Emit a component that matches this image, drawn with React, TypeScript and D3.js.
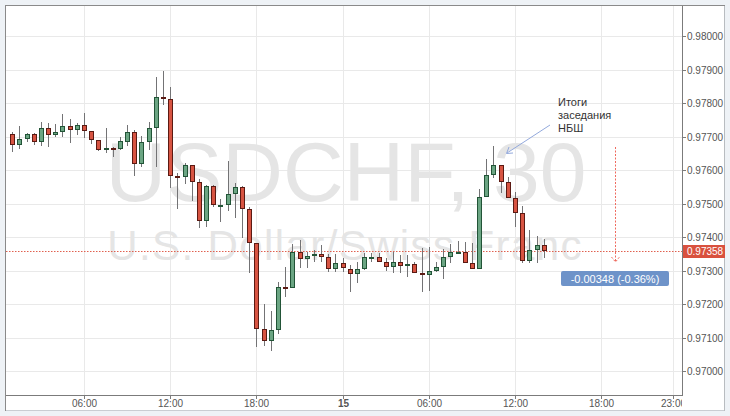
import React from 'react';
import * as d3 from 'd3';

// ---- data (USDCHF, 30-minute candles, starting 14th 01:00 UTC) ----
const firstCandle = Date.UTC(2016, 0, 14, 1, 0);
const opens = [
  0.97708, 0.97676, 0.97693, 0.97708, 0.97683, 0.97725, 0.97705, 0.97713, 0.97731, 0.97720,
  0.97735, 0.97716, 0.97689, 0.97660, 0.97666, 0.97663, 0.97685, 0.97713, 0.97618, 0.97684,
  0.97725, 0.97817, 0.97812, 0.97583, 0.97580, 0.97614, 0.97563, 0.97449, 0.97551, 0.97495,
  0.97496, 0.97528, 0.97548, 0.97483, 0.97383, 0.97126, 0.97090, 0.97122, 0.97250, 0.97249,
  0.97354, 0.97334, 0.97342, 0.97348, 0.97339, 0.97305, 0.97322, 0.97305, 0.97289, 0.97304,
  0.97339, 0.97339, 0.97326, 0.97311, 0.97326, 0.97313, 0.97319, 0.97294, 0.97286, 0.97299,
  0.97311, 0.97339, 0.97353, 0.97355, 0.97322, 0.97304, 0.97519, 0.97584, 0.97614, 0.97563,
  0.97516, 0.97471, 0.97328, 0.97361, 0.97375,
];
const highs = [
  0.97713, 0.97731, 0.97711, 0.97711, 0.97743, 0.97739, 0.97737, 0.97767, 0.97753, 0.97739,
  0.97771, 0.97717, 0.97690, 0.97725, 0.97668, 0.97699, 0.97733, 0.97719, 0.97702, 0.97743,
  0.97877, 0.97896, 0.97849, 0.97592, 0.97620, 0.97614, 0.97572, 0.97554, 0.97554, 0.97514,
  0.97626, 0.97562, 0.97552, 0.97489, 0.97383, 0.97200, 0.97179, 0.97265, 0.97310, 0.97379,
  0.97390, 0.97356, 0.97360, 0.97375, 0.97348, 0.97349, 0.97336, 0.97316, 0.97326, 0.97351,
  0.97351, 0.97351, 0.97336, 0.97355, 0.97346, 0.97346, 0.97325, 0.97367, 0.97369, 0.97326,
  0.97365, 0.97378, 0.97389, 0.97384, 0.97383, 0.97542, 0.97632, 0.97672, 0.97614, 0.97580,
  0.97535, 0.97493, 0.97421, 0.97403, 0.97394,
];
const lows = [
  0.97655, 0.97663, 0.97685, 0.97675, 0.97672, 0.97670, 0.97699, 0.97699, 0.97680, 0.97705,
  0.97695, 0.97677, 0.97658, 0.97650, 0.97640, 0.97660, 0.97672, 0.97583, 0.97608, 0.97660,
  0.97608, 0.97794, 0.97545, 0.97483, 0.97557, 0.97508, 0.97428, 0.97431, 0.97489, 0.97444,
  0.97479, 0.97458, 0.97396, 0.97292, 0.97073, 0.97075, 0.97060, 0.97110, 0.97221, 0.97247,
  0.97308, 0.97308, 0.97326, 0.97325, 0.97296, 0.97296, 0.97296, 0.97235, 0.97262, 0.97302,
  0.97326, 0.97325, 0.97299, 0.97292, 0.97292, 0.97280, 0.97292, 0.97237, 0.97239, 0.97296,
  0.97275, 0.97323, 0.97351, 0.97322, 0.97304, 0.97304, 0.97519, 0.97575, 0.97532, 0.97516,
  0.97431, 0.97322, 0.97322, 0.97323, 0.97338,
];
const closes = [
  0.97676, 0.97693, 0.97708, 0.97683, 0.97725, 0.97705, 0.97713, 0.97731, 0.97720, 0.97735,
  0.97716, 0.97689, 0.97660, 0.97665, 0.97663, 0.97687, 0.97713, 0.97618, 0.97684, 0.97725,
  0.97817, 0.97812, 0.97583, 0.97580, 0.97614, 0.97563, 0.97449, 0.97551, 0.97496, 0.97496,
  0.97528, 0.97548, 0.97483, 0.97383, 0.97126, 0.97090, 0.97122, 0.97250, 0.97248, 0.97354,
  0.97334, 0.97342, 0.97348, 0.97339, 0.97305, 0.97322, 0.97307, 0.97289, 0.97304, 0.97339,
  0.97341, 0.97325, 0.97311, 0.97326, 0.97313, 0.97319, 0.97294, 0.97286, 0.97299, 0.97311,
  0.97339, 0.97355, 0.97355, 0.97322, 0.97304, 0.97519, 0.97584, 0.97614, 0.97563, 0.97516,
  0.97471, 0.97328, 0.97361, 0.97375, 0.97358,
];
const yTicks = [0.970, 0.971, 0.972, 0.973, 0.974, 0.975, 0.976, 0.977, 0.978, 0.979, 0.980];
const xTickHours = [6, 12, 18, 24, 30, 36, 42, 47];
const xTickLabels = ['06:00', '12:00', '18:00', '15', '06:00', '12:00', '18:00', '23:00'];
const lastPrice = 0.97358;
const changeText = '-0.00348 (-0.36%)';
const symbolText = 'USDCHF, 30';
const descText = 'U.S. Dollar/Swiss Franc';
const noteLines = ['Итоги', 'заседания', 'НБШ'];

const W = 730, H = 416;
const PL = 6, PT = 6, PR = 682, PB = 395;
const dayStart = Date.UTC(2016, 0, 14, 0, 0);
const HOUR = 3600 * 1000;

const UP = '#6ba583', UPB = '#225437', DN = '#d75442', DNB = '#5b1a13', WICK = '#737375';

export default function App() {
  const x = d3.scaleUtc()
    .domain([new Date(dayStart), new Date(dayStart + 48 * HOUR)])
    .range([-2.2, 687.4]);
  const y = d3.scaleLinear().domain([0.97, 0.98]).range([371, 36]);

  const candles = opens.map((o, i) => ({
    t: new Date(firstCandle + i * 30 * 60 * 1000),
    o, h: highs[i], l: lows[i], c: closes[i],
  }));

  const font = '"Liberation Sans", Arial, sans-serif';
  const priceY = Math.round(y(lastPrice)) + 0.5;
  const arrowX = 615.5;

  return (
    <svg width={W} height={H} style={{ position: 'absolute', left: 0, top: 0, display: 'block' }}
      fontFamily={font}>
      <defs>
        <clipPath id="plot"><rect x={PL} y={PT} width={PR - PL} height={PB - PT} /></clipPath>
        <clipPath id="xax"><rect x={PL} y={PB} width={PR - PL} height={20} /></clipPath>
      </defs>
      <rect x={0} y={0} width={W} height={H} fill="#eef2f6" />
      <rect x={5} y={5} width={720} height={406} fill="#ffffff" />
      <line x1={5} y1={410.5} x2={725} y2={410.5} stroke="#c9cdd2" />
      <line x1={724.5} y1={5} x2={724.5} y2={411} stroke="#b8bcc0" />
      <line x1={5} y1={5.5} x2={725} y2={5.5} stroke="#8a8a8a" strokeWidth={1} />
      <line x1={5.5} y1={5} x2={5.5} y2={411} stroke="#8a8a8a" strokeWidth={1} />

      {/* grid */}
      <g clipPath="url(#plot)">
        {yTicks.map((v) => (
          <line key={'gy' + v} x1={PL} x2={PR} y1={Math.round(y(v)) + 0.5} y2={Math.round(y(v)) + 0.5}
            stroke="#e9e9e9" />
        ))}
        {xTickHours.map((hh) => {
          const xx = Math.round(x(new Date(dayStart + hh * HOUR))) + 0.5;
          return <line key={'gx' + hh} x1={xx} x2={xx} y1={PT} y2={PB} stroke="#e9e9e9" />;
        })}
      </g>

      {/* watermark */}
      <text x={346} y={201} textAnchor="middle" fontSize={84} fill="#e5e5e5">{symbolText}</text>
      <text x={345} y={260} textAnchor="middle" fontSize={42} letterSpacing={1.4} fill="#e5e5e5">{descText}</text>

      {/* last price line */}
      <line x1={PL} x2={PR} y1={priceY} y2={priceY} stroke="#e0604f" strokeDasharray="1.5,1.5" />

      {/* candles */}
      <g clipPath="url(#plot)">
        {candles.map((d, i) => {
          const cx = Math.round(x(d.t));
          const up = d.c >= d.o;
          const yt = Math.round(y(Math.max(d.o, d.c)));
          const yb = Math.round(y(Math.min(d.o, d.c)));
          const hgt = yb - yt;
          return (
            <g key={i}>
              <line x1={cx + 0.5} x2={cx + 0.5} y1={Math.round(y(d.h))} y2={Math.round(y(d.l))} stroke={WICK} />
              {hgt >= 2 ? (
                <rect x={cx - 1.5} y={yt + 0.5} width={4} height={hgt - 1}
                  fill={up ? UP : DN} stroke={up ? UPB : DNB} strokeWidth={1} />
              ) : (
                <rect x={cx - 2} y={yt} width={5} height={Math.max(hgt, 1) + 1}
                  fill={up ? UPB : DNB} />
              )}
            </g>
          );
        })}
      </g>

      {/* change arrow */}
      <line x1={arrowX} x2={arrowX} y1={147} y2={262} stroke="#ef6a5e" strokeDasharray="2,1.5" />
      <polyline points={`${arrowX - 4},257 ${arrowX},262 ${arrowX + 4},257`} fill="none" stroke="#ef6a5e" strokeDasharray="2,1.5" />
      <rect x={561} y={271} width={108} height={15} rx={2} fill="#6e93c9" />
      <text x={615} y={282.5} textAnchor="middle" fontSize={11} fill="#ffffff">{changeText}</text>

      {/* annotation */}
      <line x1={550} y1={125} x2={507} y2={153} stroke="#93a9dc" />
      <polyline points="509,147 506.5,153.5 513,153" fill="none" stroke="#93a9dc" />
      {noteLines.map((t, i) => (
        <text key={t} x={558} y={106 + i * 13} fontSize={11} fill="#333333">{t}</text>
      ))}

      {/* axes */}
      <line x1={PR + 0.5} x2={PR + 0.5} y1={PT} y2={PB + 1} stroke="#7b7b7b" />
      <line x1={PL} x2={PR + 1} y1={PB + 0.5} y2={PB + 0.5} stroke="#7b7b7b" />
      {yTicks.map((v) => {
        const yy = Math.round(y(v)) + 0.5;
        return (
          <g key={'ty' + v}>
            <line x1={PR + 1} x2={PR + 4} y1={yy} y2={yy} stroke="#7b7b7b" />
            <text x={687} y={yy + 3.5} fontSize={10} fill="#555555">{d3.format('.5f')(v)}</text>
          </g>
        );
      })}
      <g clipPath="url(#xax)">
        {xTickHours.map((hh, i) => {
          const xx = Math.round(x(new Date(dayStart + hh * HOUR))) + 0.5;
          return (
            <g key={'tx' + hh}>
              <line x1={xx} x2={xx} y1={PB + 1} y2={PB + 4} stroke="#7b7b7b" />
              <text x={xx} y={407} textAnchor="middle" fontSize={10} fill="#555555"
                fontWeight={xTickLabels[i] === '15' ? 'bold' : 'normal'}>{xTickLabels[i]}</text>
            </g>
          );
        })}
      </g>

      {/* last price label */}
      <rect x={PR + 1} y={priceY - 6.5} width={42} height={13} fill="#d9513e" />
      <text x={687} y={priceY + 3.5} fontSize={10} fill="#ffffff">{d3.format('.5f')(lastPrice)}</text>
    </svg>
  );
}
